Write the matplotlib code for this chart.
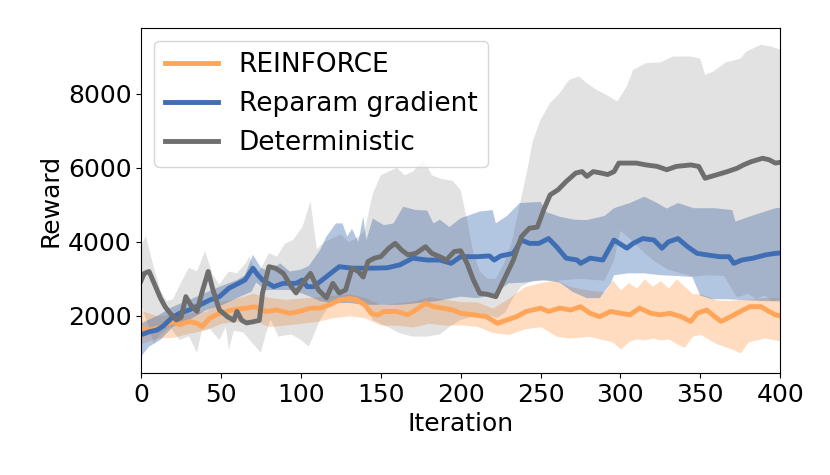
import matplotlib
matplotlib.use("Agg")
import matplotlib.pyplot as plt

# REINFORCE mean line
rf_x = [0, 5, 12, 20, 24, 30, 35, 38, 43, 49, 57, 66, 71, 78, 85, 93, 99, 106, 112, 118,
        124, 130, 135, 140, 144, 148, 152, 160, 167, 172, 178, 183, 189, 195, 200, 208, 216,
        223, 229, 235, 241, 250, 255, 262, 269, 275, 281, 287, 294, 300, 306, 312, 319, 325,
        331, 338, 344, 348, 354, 359, 363, 369, 375, 381, 388, 393, 397, 400]
rf_y = [1670, 1620, 1690, 1850, 1760, 1850, 1800, 1710, 1940, 2070, 2160, 2210, 2250, 2120,
        2160, 2070, 2120, 2210, 2210, 2300, 2430, 2470, 2430, 2300, 2070, 2020, 2120, 2120,
        2030, 2160, 2340, 2250, 2210, 2160, 2070, 2030, 1980, 1800, 1890, 1980, 2120, 2210,
        2120, 2210, 2160, 2250, 2070, 1980, 2120, 2070, 2030, 2210, 2070, 2030, 2070, 1980,
        1850, 2070, 2160, 1980, 1850, 1980, 2120, 2250, 2250, 2120, 2030, 2000]

# REINFORCE band
rf_band_x = [0, 10, 20, 30, 40, 50, 60, 70, 80, 90, 100, 110, 120, 130, 140, 150, 160, 170,
             180, 190, 200, 210, 220, 230, 240, 250, 260, 268, 280, 290, 295, 300, 305, 310,
             315, 320, 325, 330, 335, 340, 345, 350, 360, 370, 375, 380, 390, 400]
rf_hi = [2150, 2000, 2050, 2080, 2120, 2390, 2480, 2610, 2500, 2450, 2480, 2520, 2560, 2600,
         2500, 2300, 2350, 2400, 2520, 2450, 2390, 2380, 2210, 2480, 2790, 2900, 2970, 2800,
         2700, 2650, 2970, 2700, 2900, 2750, 3000, 2800, 2950, 2750, 3000, 2800, 2600, 2600,
         2430, 2420, 2450, 2450, 2500, 2480]
rf_lo = [1260, 1400, 1420, 1530, 1620, 1800, 1850, 1890, 1710, 1750, 1800, 1850, 1950, 2000,
         1950, 1750, 1750, 1700, 1800, 1750, 1760, 1720, 1550, 1500, 1650, 1710, 1450, 1400,
         1450, 1350, 1300, 1100, 1300, 1380, 1350, 1400, 1350, 1380, 1250, 1150, 1450, 1500,
         1250, 1100, 1000, 1300, 1400, 1330]

# Reparam gradient mean line
rp_x = [0, 5, 10, 14, 19, 24, 30, 37, 43, 49, 55, 61, 65, 70, 73, 76, 83, 89, 97, 101, 104,
        108, 116, 124, 132, 138, 145, 154, 162, 170, 179, 187, 194, 200, 210, 218, 221, 225,
        233, 238, 243, 249, 255, 260, 266, 273, 275, 281, 289, 296, 304, 308, 314, 321, 326,
        330, 336, 342, 348, 354, 362, 368, 371, 376, 383, 391, 397, 400]
rp_y = [1490, 1570, 1620, 1730, 1940, 2070, 2160, 2300, 2430, 2520, 2750, 2880, 2970, 3290,
        3110, 2970, 2790, 2880, 2880, 2970, 2790, 2790, 3060, 3330, 3290, 3290, 3290, 3300,
        3380, 3560, 3510, 3510, 3420, 3600, 3600, 3620, 3510, 3620, 3690, 4050, 3960, 3960,
        4090, 3870, 3560, 3510, 3420, 3560, 3510, 4050, 3830, 3960, 4090, 4050, 3830, 4000,
        4090, 3870, 3690, 3650, 3600, 3600, 3420, 3510, 3560, 3650, 3690, 3700]

# Reparam gradient band
rp_hi_x = [0, 10, 20, 30, 40, 50, 60, 65, 70, 75, 80, 87, 93, 100, 105, 112, 116, 122, 126,
           129, 132, 136, 139, 141, 145, 152, 158, 164, 172, 179, 183, 187, 193, 200, 212,
           220, 222, 229, 237, 250, 254, 262, 271, 279, 290, 296, 306, 315, 323, 329, 336,
           346, 359, 370, 372, 382, 397, 400]
rp_hi = [1800, 2000, 2250, 2430, 2620, 2800, 2970, 3100, 3650, 3300, 3200, 3420, 3200, 3250,
         3350, 3780, 4140, 4500, 4500, 4150, 4350, 4000, 4680, 4050, 4630, 4450, 4500, 4950,
         4860, 4850, 4500, 4600, 4400, 4640, 4820, 4860, 4500, 4700, 5050, 5080, 4800, 4680,
         4600, 4590, 4700, 4910, 5050, 5220, 5050, 4900, 5050, 4910, 4910, 4860, 4550, 4700,
         4910, 4920]
rp_lo_x = [0, 5, 12, 20, 30, 41, 51, 62, 69, 72, 78, 87, 95, 101, 106, 112, 120, 130, 140,
           150, 162, 172, 185, 200, 210, 220, 230, 240, 252, 262, 270, 279, 287, 294, 296,
           305, 315, 325, 335, 345, 350, 357, 367, 380, 390, 400]
rp_lo = [900, 1170, 1350, 1710, 1890, 2160, 2300, 2520, 2650, 2900, 2700, 2700, 2700, 2600,
         2520, 2400, 2340, 2350, 2300, 2300, 2300, 2340, 2400, 2520, 2480, 2550, 2880, 2900,
         2970, 2900, 2650, 2480, 2480, 2880, 3100, 3150, 3150, 3100, 3080, 3050, 2550, 2450,
         2450, 2420, 2400, 2390]

# Deterministic mean line
dt_x = [0, 2, 5, 8, 12, 15, 18, 22, 25, 28, 31, 35, 38, 42, 45, 49, 54, 58, 60, 63, 66, 70,
        74, 76, 80, 84, 89, 94, 97, 101, 106, 111, 116, 120, 124, 128, 132, 136, 139, 142,
        146, 150, 155, 159, 163, 167, 172, 178, 182, 187, 191, 196, 200, 204, 208, 212, 216,
        222, 227, 233, 238, 243, 248, 252, 256, 261, 266, 272, 276, 279, 283, 288, 292, 296,
        299, 304, 310, 316, 323, 329, 335, 344, 349, 353, 360, 367, 373, 377, 382, 389, 393,
        397, 400]
dt_y = [2950, 3150, 3200, 2900, 2490, 2250, 2080, 1890, 1960, 2520, 2300, 2120, 2620, 3200,
        2700, 2160, 1980, 1880, 2120, 1880, 1810, 1840, 1880, 2620, 3330, 3290, 3150, 2790,
        2620, 2880, 3150, 2700, 2490, 2880, 2620, 2700, 3290, 3200, 3050, 3470, 3560, 3600,
        3830, 3960, 3780, 3650, 3690, 3870, 3690, 3600, 3510, 3740, 3760, 3420, 2970, 2610,
        2590, 2520, 2970, 3510, 4140, 4370, 4400, 4870, 5270, 5410, 5630, 5860, 5900, 5770,
        5900, 5860, 5820, 5900, 6130, 6130, 6130, 6080, 6040, 5950, 6040, 6080, 6040, 5720,
        5810, 5900, 5990, 6080, 6170, 6260, 6220, 6130, 6150]

# Deterministic band
dt_hi_x = [0, 3, 8, 12, 16, 20, 25, 30, 35, 40, 45, 49, 55, 60, 65, 68, 72, 76, 80, 85, 90,
           95, 101, 106, 110, 115, 120, 125, 130, 135, 140, 145, 150, 155, 160, 165, 170, 177,
           182, 188, 195, 200, 204, 208, 212, 217, 222, 227, 232, 237, 242, 245, 250, 256,
           262, 268, 274, 279, 285, 291, 298, 304, 308, 316, 325, 333, 344, 350, 353, 358,
           366, 375, 379, 388, 394, 400]
dt_hi = [3900, 4150, 3300, 2700, 2400, 2450, 2900, 3300, 3200, 3750, 3100, 2850, 3200, 3150,
         3400, 3600, 3100, 3350, 3700, 3600, 3950, 4050, 4400, 5100, 3800, 4000, 4100, 4200,
         4000, 4100, 4300, 5300, 5800, 5900, 6000, 5800, 5900, 6200, 5800, 5700, 5650, 5400,
         4600, 3700, 3200, 3000, 3000, 3400, 4000, 5000, 6000, 6700, 7300, 7750, 8020, 8380,
         8470, 8290, 8110, 7980, 7790, 8200, 8650, 8830, 8850, 9010, 9010, 8950, 8510, 8600,
         8850, 8950, 9150, 9330, 9280, 9200]
dt_lo_x = [0, 5, 8, 12, 18, 24, 30, 35, 38, 43, 49, 53, 55, 58, 64, 69, 75, 78, 81, 86, 94,
           100, 105, 112, 118, 125, 131, 135, 141, 145, 154, 162, 170, 179, 187, 193, 200,
           205, 212, 218, 223, 228, 233, 238, 245, 260, 275, 290, 296, 300, 308, 315, 322,
           330, 338, 346, 355, 365, 370, 373, 380, 385, 390, 395, 400]
dt_lo = [2300, 1700, 1250, 1500, 1710, 1350, 1450, 1000, 1600, 1650, 1350, 1710, 1080, 1600,
         1550, 1300, 1000, 1500, 1900, 1440, 1500, 1350, 1170, 1890, 2300, 2450, 2400, 2520,
         2250, 1890, 1710, 1530, 1440, 1440, 1500, 1700, 1890, 1950, 2070, 2000, 1950, 2100,
         2500, 2800, 2950, 2950, 3000, 2950, 3500, 4300, 4000, 3700, 3450, 3250, 3150, 3060,
         3100, 3080, 2700, 2500, 2600, 2450, 2550, 2400, 2450]

c_rf = "#ffa55a"
c_rp = "#3f6eb5"
c_dt = "#6e6e6e"

plt.rcParams['font.family'] = ['DejaVu Sans']
fig = plt.figure(figsize=(8.3, 4.75), dpi=100)
ax = fig.add_subplot(111)
fig.subplots_adjust(left=0.170, right=0.940, top=0.941, bottom=0.215)

ax.fill_between(rf_band_x, rf_lo, rf_hi, color=c_rf, alpha=0.38, lw=0)
# hi and lo edges have their own x, so the bands are drawn as polygons
ax.fill(rp_hi_x + rp_lo_x[::-1], rp_hi + rp_lo[::-1], color=c_rp, alpha=0.4, lw=0)
ax.fill(dt_hi_x + dt_lo_x[::-1], dt_hi + dt_lo[::-1], color=c_dt, alpha=0.2, lw=0)

ax.plot(rf_x, rf_y, color=c_rf, lw=3.5, label="REINFORCE")
ax.plot(rp_x, rp_y, color=c_rp, lw=3.5, label="Reparam gradient")
ax.plot(dt_x, dt_y, color=c_dt, lw=3.5, label="Deterministic")

ax.set_xlim(0, 400)
ax.set_ylim(460, 9780)
ax.set_xticks(range(0, 401, 50))
ax.set_yticks([2000, 4000, 6000, 8000])
ax.tick_params(labelsize=18)
ax.set_xlabel("Iteration", fontsize=18)
ax.set_ylabel("Reward", fontsize=18)
ax.legend(loc="upper left", fontsize=19, handlelength=2.0)

fig.savefig("out.png", dpi=100)
